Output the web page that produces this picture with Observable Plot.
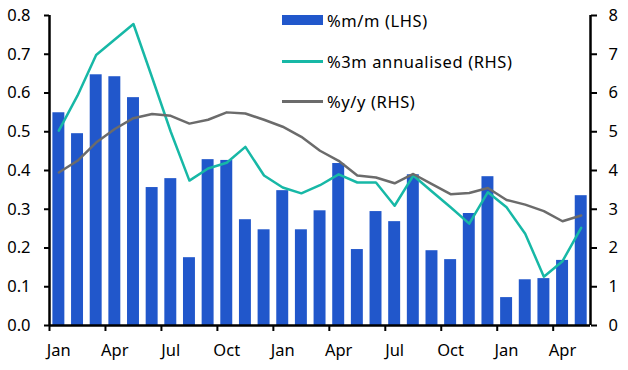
<!DOCTYPE html>
<html>
<head>
<meta charset="utf-8">
<script src="https://cdn.jsdelivr.net/npm/d3@7"></script>
<script src="https://cdn.jsdelivr.net/npm/@observablehq/plot@0.6"></script>
<style>
  html, body { margin: 0; padding: 0; background: #fff; }
  #wrap { position: relative; width: 628px; height: 370px; font-family: "Noto Sans", sans-serif; }
  #legend { position: absolute; left: 0; top: 0; font-size: 16.5px; letter-spacing: 0.6px; color: #000; }
  .item { position: absolute; left: 282px; display: flex; align-items: center; white-space: nowrap; }
  .sw { width: 41px; margin-right: 4px; }
</style>
</head>
<body>
<div id="wrap"></div>
<script>
// Month labels (Jan of year 1 to May of year 3)
const months = ["Jan","Feb","Mar","Apr","May","Jun","Jul","Aug","Sep","Oct","Nov","Dec",
                "Jan","Feb","Mar","Apr","May","Jun","Jul","Aug","Sep","Oct","Nov","Dec",
                "Jan","Feb","Mar","Apr","May"];
// %m/m (LHS)
const mm = [0.549,0.495,0.647,0.642,0.588,0.356,0.379,0.175,0.428,0.426,0.273,0.247,
            0.348,0.247,0.296,0.418,0.196,0.294,0.268,0.389,0.193,0.170,0.289,0.384,
            0.072,0.118,0.121,0.168,0.335];
// %3m annualised (RHS)
const ann3m = [5.03,5.93,6.98,7.38,7.78,6.40,5.00,3.74,4.05,4.20,4.61,3.87,
               3.56,3.41,3.62,3.90,3.69,3.69,3.09,3.87,3.46,3.05,2.63,3.44,
               3.05,2.37,1.26,1.66,2.52];
// %y/y (RHS)
const yy = [3.95,4.25,4.72,5.07,5.35,5.46,5.41,5.21,5.31,5.50,5.47,5.31,
            5.13,4.87,4.51,4.25,3.87,3.82,3.67,3.91,3.65,3.39,3.42,3.55,
            3.24,3.12,2.95,2.69,2.84];
const leftTicks = [0,0.1,0.2,0.3,0.4,0.5,0.6,0.7,0.8];
const rightTicks = [0,1,2,3,4,5,6,7,8];
const series = [
  {label: "%m/m (LHS)", color: "#2157cb", kind: "bar"},
  {label: "%3m annualised (RHS)", color: "#17b8a6", kind: "line"},
  {label: "%y/y (RHS)", color: "#6b6b6b", kind: "line"}
];

const rows = months.map((m, i) => ({i, m, mm: mm[i], ann: ann3m[i], yy: yy[i]}));
const rhsScale = 10; // RHS 0..8 shares the LHS 0..0.8 scale
const tickIdx = rows.filter(d => d.i % 3 === 0).map(d => d.i);
const labelPos = tickIdx.map(i => i + 0.5);

const plot = Plot.plot({
  width: 628,
  height: 370,
  marginLeft: 49,
  marginRight: 38,
  marginTop: 15,
  marginBottom: 45,
  style: {fontFamily: "Noto Sans, sans-serif", fontSize: "16.5px", color: "#000", background: "#fff"},
  x: {domain: [0, months.length], type: "linear"},
  y: {domain: [0, 0.8]},
  marks: [
    Plot.rectY(rows, {x1: d => d.i, x2: d => d.i + 1, y: "mm", fill: series[0].color, insetLeft: 3.4, insetRight: 3.3}),
    Plot.line(rows, {x: d => d.i + 0.5, y: d => d.ann / rhsScale, stroke: series[1].color, strokeWidth: 2.5}),
    Plot.line(rows, {x: d => d.i + 0.5, y: d => d.yy / rhsScale, stroke: series[2].color, strokeWidth: 2.5}),
    Plot.axisY(leftTicks, {anchor: "left", tickSize: 5, tickPadding: 14, tickFormat: d3.format(".1f"), label: null, strokeWidth: 2}),
    Plot.axisY(rightTicks.map(d => d / rhsScale), {anchor: "right", tickSize: 6, tickPadding: 12, tickFormat: d => Math.round(d * rhsScale), label: null, strokeWidth: 2}),
    Plot.axisX(tickIdx, {anchor: "bottom", tickSize: 6, text: null, label: null, strokeWidth: 2}),
    Plot.axisX(labelPos, {anchor: "bottom", tickSize: 0, tickPadding: 19, tickFormat: d => months[Math.floor(d)], label: null}),
    Plot.ruleX([0, months.length], {stroke: "#000", strokeWidth: 2.5}),
    Plot.ruleY([0], {stroke: "#000", strokeWidth: 2.7})
  ]
});

const wrap = document.getElementById("wrap");
wrap.appendChild(plot);
const legend = document.createElement("div");
legend.id = "legend";
const tops = [20, 61, 101];
series.forEach((s, k) => {
  const it = document.createElement("div");
  it.className = "item";
  it.style.top = (tops[k] - 12) + "px";
  it.style.height = "24px";
  const sw = document.createElement("span");
  sw.className = "sw";
  sw.style.height = s.kind === "bar" ? "10px" : "3px";
  sw.style.background = s.color;
  const tx = document.createElement("span");
  tx.textContent = s.label;
  it.appendChild(sw);
  it.appendChild(tx);
  legend.appendChild(it);
});
wrap.appendChild(legend);
</script>
</body>
</html>
